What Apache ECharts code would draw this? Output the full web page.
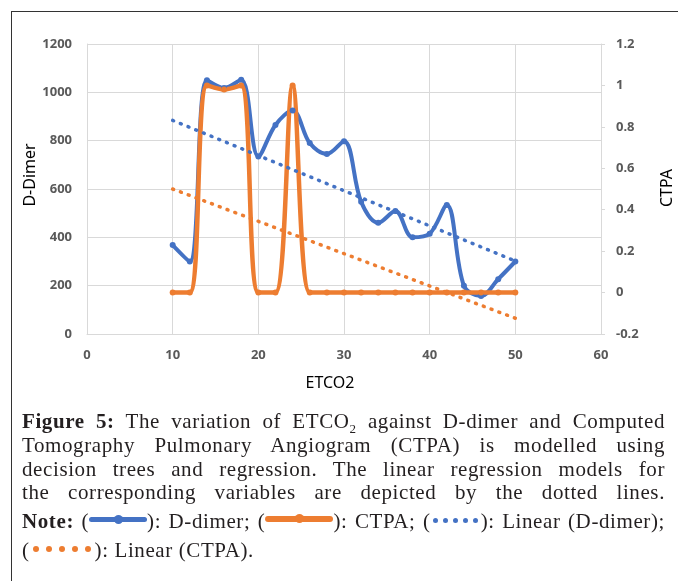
<!DOCTYPE html>
<html>
<head>
<meta charset="utf-8">
<script src="https://cdn.jsdelivr.net/npm/echarts@6/dist/echarts.min.js"></script>
<style>
  html, body { margin: 0; padding: 0; background: #fff; }
  #wrap { position: relative; width: 678px; height: 581px; overflow: hidden; }
  #chart { position: absolute; left: 0; top: 0; width: 678px; height: 581px; }
  #frame { position: absolute; left: 11px; top: 11px; width: 700px; height: 600px;
           border-left: 1.5px solid #333; border-top: 1.5px solid #333; }
  #caption { position: absolute; left: 22px; top: 410px; width: 643px;
             font-family: "Liberation Serif", "DejaVu Serif", serif; font-size: 21px;
             letter-spacing: 0.6px; line-height: 23.8px; color: #231f20; }
  #caption .j { text-align: justify; text-align-last: justify; }
  #caption sub { font-size: 13px; line-height: 0; }
  .seg { display: inline-block; position: relative; height: 5px; border-radius: 3px; vertical-align: 0.28em; }
  .seg i { position: absolute; left: 50%; top: 50%; width: 9px; height: 9px; margin: -4.5px 0 0 -4.5px;
           border-radius: 50%; }
  .dots { display: inline-block; vertical-align: 0.22em; }
  .dots i { display: inline-block; width: 6px; height: 6px; border-radius: 50%; margin: 0 3.5px; }
</style>
</head>
<body>
<div id="wrap">
  <div id="chart"></div>
  <div id="frame"></div>
  <div id="caption">
    <div class="j"><b>Figure 5:</b> The variation of ETCO<sub>2</sub> against D-dimer and Computed</div>
    <div class="j">Tomography Pulmonary Angiogram (CTPA) is modelled using</div>
    <div class="j">decision trees and regression. The linear regression models for</div>
    <div class="j">the corresponding variables are depicted by the dotted lines.</div>
    <div class="j"><b>Note:</b> (<span class="seg" style="width:58px;background:#4472c4"><i style="background:#4472c4"></i></span>): D-dimer; (<span class="seg" style="width:68px;height:6px;background:#ed7d31"><i style="background:#ed7d31"></i></span>): CTPA; (<span class="dots"><i style="background:#4472c4;width:5px;height:5px;margin:0 2.5px"></i><i style="background:#4472c4;width:5px;height:5px;margin:0 2.5px"></i><i style="background:#4472c4;width:5px;height:5px;margin:0 2.5px"></i><i style="background:#4472c4;width:5px;height:5px;margin:0 2.5px"></i><i style="background:#4472c4;width:5px;height:5px;margin:0 2.5px"></i></span>): Linear (D-dimer);</div>
    <div>(<span class="dots"><i style="background:#ed7d31"></i><i style="background:#ed7d31"></i><i style="background:#ed7d31"></i><i style="background:#ed7d31"></i><i style="background:#ed7d31"></i></span>): Linear (CTPA).</div>
  </div>
</div>
<script>
// ETCO2 values (x axis)
var etco2 = [10, 12, 14, 16, 18, 20, 22, 24, 26, 28, 30, 32, 34, 36, 38, 40, 42, 44, 46, 48, 50];
// D-dimer (left axis)
var dDimer = [368, 300, 1050, 1018, 1052, 735, 865, 925, 790, 745, 798, 547, 460, 509, 400, 415, 534, 200, 157, 227, 300];
// CTPA (right axis)
var ctpa = [0, 0, 1, 0.98, 1, 0, 0, 1, 0, 0, 0, 0, 0, 0, 0, 0, 0, 0, 0, 0, 0];
// linear trend end points
var trendX = [10, 50];
var trendDDimer = [884, 302];
var trendCtpa = [0.5, -0.124];

function pairs(xs, ys) {
    return xs.map(function (x, i) { return [x, ys[i]]; });
}

var blue = '#4472c4';
var orange = '#ed7d31';
var gridColor = '#d9d9d9';
var labelStyle = {
    color: '#595959',
    fontFamily: 'Noto Sans',
    fontWeight: 'bold',
    fontSize: 13,
    margin: 15,
    formatter: function (v) { return String(Math.round(v * 10) / 10); }
};
var titleFont = { fontFamily: 'Noto Sans', fontSize: 16, fill: '#000' };

var chart = echarts.init(document.getElementById('chart'));
chart.setOption({
    backgroundColor: '#fff',
    animation: false,
    grid: { left: 87, top: 44, right: 77, bottom: 247 },
    xAxis: {
        type: 'value',
        min: 0,
        max: 60,
        interval: 10,
        axisLine: { show: true, lineStyle: { color: gridColor, width: 1 } },
        axisTick: { show: false },
        axisLabel: labelStyle,
        splitLine: { show: true, lineStyle: { color: gridColor, width: 1 } }
    },
    yAxis: [{
        type: 'value',
        min: 0,
        max: 1200,
        interval: 200,
        axisLine: { show: true, lineStyle: { color: gridColor, width: 1 } },
        axisTick: { show: false },
        axisLabel: labelStyle,
        splitLine: { show: true, lineStyle: { color: gridColor, width: 1 } }
    }, {
        type: 'value',
        position: 'right',
        min: -0.2,
        max: 1.2,
        interval: 0.2,
        axisLine: { show: true, lineStyle: { color: gridColor, width: 1 } },
        axisTick: { show: true, length: 4, lineStyle: { color: gridColor } },
        axisLabel: labelStyle,
        splitLine: { show: false }
    }],
    graphic: [
        { type: 'text', x: 30, y: 175, rotation: Math.PI / 2,
          style: Object.assign({ text: 'D-Dimer', align: 'center', verticalAlign: 'middle' }, titleFont) },
        { type: 'text', x: 667, y: 188, rotation: Math.PI / 2,
          style: Object.assign({ text: 'CTPA', align: 'center', verticalAlign: 'middle' }, titleFont) },
        { type: 'text', x: 330, y: 383,
          style: Object.assign({ text: 'ETCO2', align: 'center', verticalAlign: 'middle' }, titleFont) }
    ],
    series: [{
        name: 'D-dimer',
        type: 'line',
        data: pairs(etco2, dDimer),
        smooth: 0.35,
        symbol: 'circle',
        symbolSize: 6,
        lineStyle: { color: blue, width: 4 },
        itemStyle: { color: blue }
    }, {
        name: 'CTPA',
        type: 'line',
        yAxisIndex: 1,
        data: pairs(etco2, ctpa),
        smooth: 0.35,
        symbol: 'circle',
        symbolSize: 6,
        lineStyle: { color: orange, width: 4.5 },
        itemStyle: { color: orange }
    }, {
        name: 'Linear (D-dimer)',
        type: 'line',
        data: pairs(trendX, trendDDimer),
        symbol: 'none',
        lineStyle: { color: blue, width: 3.5, type: [1, 7.3], cap: 'round' }
    }, {
        name: 'Linear (CTPA)',
        type: 'line',
        yAxisIndex: 1,
        data: pairs(trendX, trendCtpa),
        symbol: 'none',
        lineStyle: { color: orange, width: 3.5, type: [1, 7.3], cap: 'round' }
    }]
});
</script>
</body>
</html>
